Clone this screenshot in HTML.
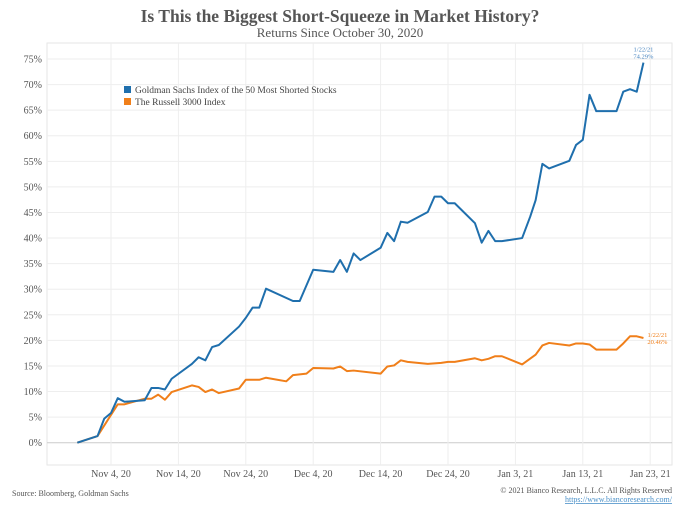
<!DOCTYPE html>
<html><head><meta charset="utf-8"><style>
body{margin:0;background:#fff;width:680px;height:510px;overflow:hidden;font-family:"Liberation Serif",serif}
text{font-family:"Liberation Serif",serif}
</style></head><body>
<svg id="chart" width="680" height="510">
<text x="340" y="22" text-anchor="middle" font-size="17.5" font-weight="bold" fill="#555">Is This the Biggest Short-Squeeze in Market History?</text>
<text x="340" y="37" text-anchor="middle" font-size="13" fill="#555">Returns Since October 30, 2020</text>
<rect x="47" y="43" width="625" height="422" fill="none" stroke="#e6e6e6"/>
<g id="grid"></g><g id="series"></g>
<g>
<rect x="124" y="86" width="7" height="7" fill="#1f6fad"/>
<text x="135" y="93" font-size="9.5" fill="#444">Goldman Sachs Index of the 50 Most Shorted Stocks</text>
<rect x="124" y="98" width="7" height="7" fill="#f07f1a"/>
<text x="135" y="105" font-size="9.5" fill="#444">The Russell 3000 Index</text>
</g>
<text x="12" y="496" font-size="8" fill="#555">Source: Bloomberg, Goldman Sachs</text>
<text x="672" y="493" text-anchor="end" font-size="8" fill="#555">© 2021 Bianco Research, L.L.C. All Rights Reserved</text>
<text x="672" y="502" text-anchor="end" font-size="8" fill="#4a90c8" text-decoration="underline">https://www.biancoresearch.com/</text>
</svg>
<script>
const yTicks=[0,5,10,15,20,25,30,35,40,45,50,55,60,65,70,75];
const xTickLabels=["Nov 4, 20","Nov 14, 20","Nov 24, 20","Dec 4, 20","Dec 14, 20","Dec 24, 20","Jan 3, 21","Jan 13, 21","Jan 23, 21"];
const xTickDays=[5,15,25,35,45,55,65,75,85];
const gsDays=[0,3,4,5,6,7,10,11,12,13,14,17,18,19,20,21,24,25,26,27,28,32,33,35,38,39,40,41,42,45,46,47,48,49,52,53,54,55,56,59,60,61,62,63,66,67.2,68,69,70,73,74,75,76,77,80,81,82,83,84];
const gsValues=[0,1.3,4.7,5.8,8.7,8.0,8.3,10.7,10.7,10.4,12.5,15.4,16.7,16.1,18.7,19.1,22.7,24.4,26.4,26.4,30.1,27.7,27.7,33.8,33.4,35.7,33.4,37,35.7,38.1,41,39.4,43.2,43,45.1,48.1,48.1,46.8,46.8,42.9,39.1,41.4,39.4,39.4,40,44.2,47.4,54.5,53.6,55.1,58.2,59.2,68,64.8,64.8,68.6,69.1,68.6,74.29];
const rusDays=[0,3,6,7,10,11,12,13,14,17,18,19,20,21,24,25,27,28,31,32,34,35,38,39,40,41,45,46,47,48,49,52,54,55,56,59,60,61,62,63,66,68,69,70,73,74,75,76,77,80,81,82,83,84];
const rusValues=[0,1.3,7.5,7.5,8.6,8.6,9.4,8.4,9.9,11.2,10.9,9.9,10.4,9.7,10.6,12.3,12.3,12.7,12,13.2,13.5,14.6,14.5,14.9,14,14.1,13.5,14.9,15.1,16.1,15.8,15.4,15.6,15.8,15.8,16.5,16.1,16.4,16.9,16.9,15.3,17.2,19,19.5,19,19.4,19.4,19.2,18.2,18.2,19.4,20.8,20.8,20.46];
const NS="http://www.w3.org/2000/svg";
const X=d=>111+(d-5)*6.74;
const Y=v=>442.7-v*5.116;
function mk(tag,attrs,parent,txt){const e=document.createElementNS(NS,tag);for(const k in attrs)e.setAttribute(k,attrs[k]);if(txt!==undefined)e.textContent=txt;parent.appendChild(e);return e;}
const grid=document.getElementById('grid'),ser=document.getElementById('series');
yTicks.forEach(v=>{
  const l=mk('line',{x1:47,x2:672,y1:Y(v),y2:Y(v),stroke:v===0?'#ccc':'#eee','stroke-width':1},grid);
  
  
  const t=mk('text',{x:42,y:Y(v)+3.5,'text-anchor':'end','font-size':10,fill:'#555'},grid,v+'%');
  
  
});
xTickDays.forEach((d,i)=>{
  const l=mk('line',{x1:X(d),x2:X(d),y1:43,y2:465,stroke:'#eee','stroke-width':1},grid);
  
  
  const t=mk('text',{x:X(d),y:477,'text-anchor':'middle','font-size':10,fill:'#555'},grid,xTickLabels[i]);
  
  
});
function line(days,vals,color,name){
  const p=mk('polyline',{points:days.map((d,i)=>X(d)+','+Y(vals[i])).join(' '),fill:'none',stroke:color,'stroke-width':2,'stroke-linejoin':'round'},ser);
  
  
}
line(rusDays,rusValues,'#f07f1a','russell-3000-line');
line(gsDays,gsValues,'#1f6fad','goldman-sachs-line');
const gl=gsValues.length-1,rl=rusValues.length-1;
let a=mk('text',{x:X(gsDays[gl]),y:Y(gsValues[gl])-11,'text-anchor':'middle','font-size':6.5,fill:'#4a86c0'},ser,'1/22/21');


a=mk('text',{x:X(gsDays[gl]),y:Y(gsValues[gl])-4,'text-anchor':'middle','font-size':6.5,fill:'#4a86c0'},ser,gsValues[gl].toFixed(2)+'%');


a=mk('text',{x:X(rusDays[rl])+14,y:Y(rusValues[rl])-1,'text-anchor':'middle','font-size':6.5,fill:'#f07f1a'},ser,'1/22/21');


a=mk('text',{x:X(rusDays[rl])+14,y:Y(rusValues[rl])+6,'text-anchor':'middle','font-size':6.5,fill:'#f07f1a'},ser,rusValues[rl].toFixed(2)+'%');


</script>
</body></html>
